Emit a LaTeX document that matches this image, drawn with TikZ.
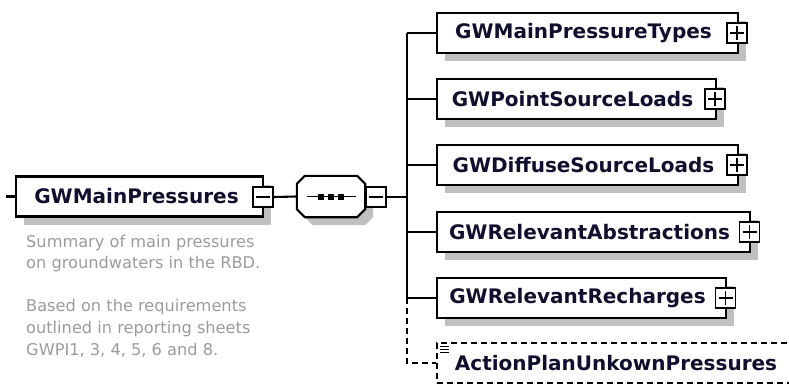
\documentclass[tikz,border=0pt]{standalone}
\usepackage{fontspec}
\setmainfont{DejaVu Sans}
\usetikzlibrary{shadows}
\definecolor{shadowgray}{HTML}{C0C0C0}
\definecolor{labelink}{HTML}{10102E}
\definecolor{noteink}{HTML}{9B9B9B}

\tikzset{
  wire/.style={line width=2.1pt, black},
  boxshadow/.style={drop shadow={shadow xshift=8pt, shadow yshift=-8pt, fill=shadowgray, opacity=1}},
  elem/.style={rectangle, draw, line width=2.1pt, fill=white, inner sep=0pt,
    minimum height=40pt, text=labelink, font=\fontsize{20}{24}\selectfont\bfseries, boxshadow},
  optelem/.style={rectangle, draw, line width=1.8pt, dash pattern=on 6pt off 4pt, fill=white,
    inner sep=0pt, minimum height=40pt, text=labelink, font=\fontsize{20}{24}\selectfont\bfseries},
  seqframe/.style={rectangle, inner sep=0pt, minimum width=68pt, minimum height=41pt},
  seqoutline/.style={draw, line width=2.1pt, fill=white, boxshadow},
  toggle/.style={rectangle, draw, line width=1.8pt, fill=white, minimum size=20pt, inner sep=0pt},
  collapse/.style={toggle, path picture={
      \draw[line width=1.6pt] ([xshift=-7pt]path picture bounding box.center) -- ([xshift=7pt]path picture bounding box.center);}},
  expand/.style={toggle, path picture={
      \draw[line width=1.6pt] ([xshift=-7pt]path picture bounding box.center) -- ([xshift=7pt]path picture bounding box.center);
      \draw[line width=1.6pt] ([yshift=-7pt]path picture bounding box.center) -- ([yshift=7pt]path picture bounding box.center);}},
}

\begin{document}
\begin{tikzpicture}[x=1pt,y=-1pt]
  \useasboundingbox (0,0) rectangle (789,386);

  % root element and its description
  \coordinate (stub) at (6,196.5);
  \node[elem, minimum width=247pt] (main) at (139.5,196.5) {GWMainPressures\kern6pt};
  \node[collapse] (mainT) at (263,197) {};
  \node[anchor=north west, inner sep=0pt, align=left, text=noteink,
        font=\fontsize{16.2}{21.6}\selectfont] (note) at (26,234.5)
    {Summary of main pressures\\on groundwaters in the RBD.\\[21.6pt]Based on the requirements\\outlined in reporting sheets\\GWPI1, 3, 4, 5, 6 and 8.};

  % sequence compositor: octagon with the three-dot symbol
  \node[seqframe] (seq) at (331,196.5) {};
  \path[seqoutline]
    ([xshift=8pt]seq.north west) -- ([xshift=-8pt]seq.north east)
    -- ([yshift=-8pt]seq.north east) -- ([yshift=8pt]seq.south east)
    -- ([xshift=-8pt]seq.south east) -- ([xshift=8pt]seq.south west)
    -- ([yshift=8pt]seq.south west) -- ([yshift=-8pt]seq.north west) -- cycle;
  \draw[line width=1.6pt] ([xshift=-24.5pt]seq.center) -- ([xshift=24.5pt]seq.center);
  \foreach \dx in {-10,0,10}
    \fill ([xshift=\dx pt]seq.center) ++(-3,-3) rectangle ++(6,6);
  \node[collapse] (seqT) at (376,197) {};
  \coordinate (trunk) at (407,197);

  % child elements
  \node[elem, minimum width=301pt] (c1) at (587.5,33)  {GWMainPressureTypes\kern8pt};
  \node[expand] (c1T) at (737,33) {};
  \node[elem, minimum width=279pt] (c2) at (576.5,99)  {GWPointSourceLoads\kern8pt};
  \node[expand] (c2T) at (715,99) {};
  \node[elem, minimum width=301pt] (c3) at (587.5,165) {GWDiffuseSourceLoads\kern8pt};
  \node[expand] (c3T) at (737,165) {};
  \node[elem, minimum width=313pt] (c4) at (593.5,232) {GWRelevantAbstractions\kern8pt};
  \node[expand] (c4T) at (749.5,232) {};
  \node[elem, minimum width=289pt] (c5) at (581.5,298) {GWRelevantRecharges\kern8pt};
  \node[expand] (c5T) at (725.5,298) {};
  \node[optelem, minimum width=365pt] (c6) at (619.5,363) {ActionPlanUnkownPressures\kern7pt};
  \foreach \dy in {4.5,7.5,10.5}
    \draw[line width=1.2pt] ([shift={(4,\dy)}]c6.north west) -- ++(9,0);

  % connectors
  \draw[wire] (stub) -- (main.west);
  \draw[wire] (mainT.east) -- (seq.west);
  \draw[wire] (seqT.east) -- (trunk);
  \draw[wire] (trunk |- c1.west) -- (trunk |- c5.west);
  \foreach \c in {c1,c2,c3,c4,c5}
    \draw[wire] (trunk |- \c.west) -- (\c.west);
  \draw[wire, line width=1.8pt, dash pattern=on 6pt off 4pt] (trunk |- c5.west) |- (c6.west);
\end{tikzpicture}
\end{document}
